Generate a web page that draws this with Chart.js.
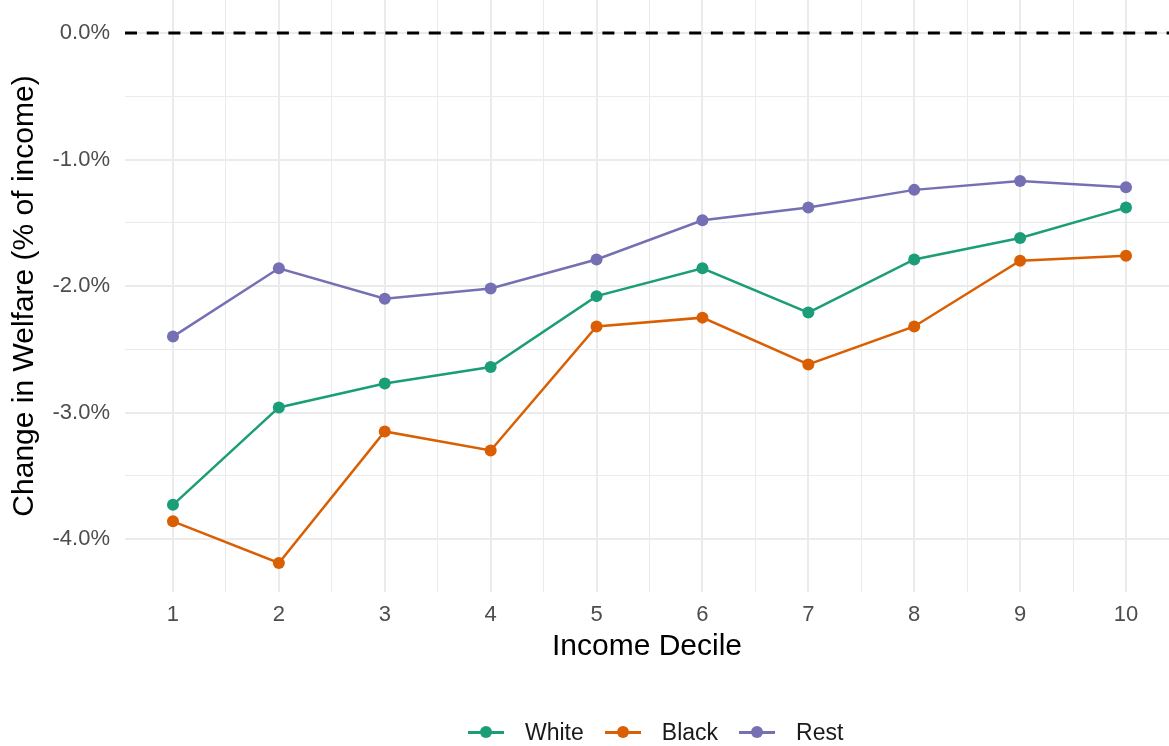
<!DOCTYPE html>
<html>
<head>
<meta charset="utf-8">
<script src="https://cdn.jsdelivr.net/npm/chart.js@4.4.1/dist/chart.umd.min.js"></script>
<style>
  html, body { margin: 0; padding: 0; background: #fff; }
  #wrap { position: relative; width: 1169px; height: 746px; }
  #legend {
    position: absolute; left: 468px; top: 718px; height: 28px;
    display: flex; align-items: center;
    font-family: "Liberation Sans", Arial, sans-serif; font-size: 23px; color: #1a1a1a;
  }
  .item { display: flex; align-items: center; margin-right: 21px; }
  .key { position: relative; width: 36px; height: 28px; margin-right: 21px; }
  .key .ln { position: absolute; left: 0; right: 0; top: 13px; height: 2.5px; }
  .key .dt { position: absolute; left: 12px; top: 8px; width: 12px; height: 12px; border-radius: 50%; }
</style>
</head>
<body>
<div id="wrap">
  <canvas id="chart" width="1169" height="746"></canvas>
  <div id="legend"></div>
</div>
<script>
document.addEventListener("DOMContentLoaded", function () {

  // ---------- data ----------
  const deciles = [1, 2, 3, 4, 5, 6, 7, 8, 9, 10];
  const white = [-3.73, -2.96, -2.77, -2.64, -2.08, -1.86, -2.21, -1.79, -1.62, -1.38];
  const black = [-3.86, -4.19, -3.15, -3.30, -2.32, -2.25, -2.62, -2.32, -1.80, -1.76];
  const rest  = [-2.40, -1.86, -2.10, -2.02, -1.79, -1.48, -1.38, -1.24, -1.17, -1.22];
  const seriesNames = ["White", "Black", "Rest"];
  const seriesColors = ["#1B9E77", "#D95F02", "#7570B3"];
  const refLine = 0;

  const FONT = '"Liberation Sans", Arial, sans-serif';
  const toPts = arr => deciles.map((d, i) => ({ x: d, y: arr[i] }));
  const gridWidth = ctx => Number.isInteger(ctx.tick.value) ? 2 : 1;

  // dashed reference line at 0%
  const zeroLine = {
    id: "zeroLine",
    beforeDatasetsDraw(chart) {
      const { ctx, chartArea, scales } = chart;
      const y = scales.y.getPixelForValue(refLine);
      ctx.save();
      ctx.strokeStyle = "#000";
      ctx.lineWidth = 3;
      ctx.setLineDash([12, 9.7]);
      ctx.beginPath();
      ctx.moveTo(chartArea.left, y);
      ctx.lineTo(chartArea.right, y);
      ctx.stroke();
      ctx.restore();
    }
  };

  new Chart(document.getElementById("chart"), {
    type: "line",
    data: {
      datasets: [white, black, rest].map((arr, i) => ({
        label: seriesNames[i],
        data: toPts(arr),
        borderColor: seriesColors[i],
        backgroundColor: seriesColors[i],
        borderWidth: 2.5,
        pointRadius: 6,
        pointBorderWidth: 0,
        tension: 0,
        clip: false
      }))
    },
    options: {
      responsive: false,
      animation: false,
      layout: { autoPadding: false, padding: { left: 0, right: 0, top: 0, bottom: 79 } },
      plugins: { legend: { display: false }, tooltip: { enabled: false } },
      scales: {
        x: {
          type: "linear",
          min: 0.547, max: 10.406,
          border: { display: false },
          grid: { color: "#ebebeb", lineWidth: gridWidth, drawTicks: false },
          ticks: {
            stepSize: 0.5, includeBounds: false, autoSkip: false, maxRotation: 0,
            padding: 10, color: "#4d4d4d", font: { family: FONT, size: 22 },
            callback: v => Number.isInteger(v) ? String(v) : ""
          },
          title: {
            display: true, text: "Income Decile", color: "#000",
            font: { family: FONT, size: 30 }, padding: { top: 0, bottom: 2 }
          },
          afterFit: s => { s.height = 75; s.paddingLeft = 0; s.paddingRight = 0; }
        },
        y: {
          min: -4.419, max: 0.261,
          border: { display: false },
          grid: { color: "#ebebeb", lineWidth: gridWidth, drawTicks: false },
          ticks: {
            stepSize: 0.5, includeBounds: false, autoSkip: false,
            padding: 15, color: "#4d4d4d", font: { family: FONT, size: 22 },
            callback: v => Number.isInteger(v) ? v.toFixed(1) + "%" : ""
          },
          title: {
            display: true, text: "Change in Welfare (% of income)", color: "#000",
            font: { family: FONT, size: 30 }, padding: { top: 7, bottom: 0 }
          },
          afterFit: s => { s.width = 125; s.paddingTop = 0; s.paddingBottom = 0; }
        }
      }
    },
    plugins: [zeroLine]
  });

  // ---------- legend ----------
  const legend = document.getElementById("legend");
  seriesNames.forEach((name, i) => {
    const item = document.createElement("div");
    item.className = "item";
    item.innerHTML = '<span class="key"><span class="ln" style="background:' + seriesColors[i] +
      '"></span><span class="dt" style="background:' + seriesColors[i] + '"></span></span><span>' + name + '</span>';
    legend.appendChild(item);
  });
});
</script>
</body>
</html>
